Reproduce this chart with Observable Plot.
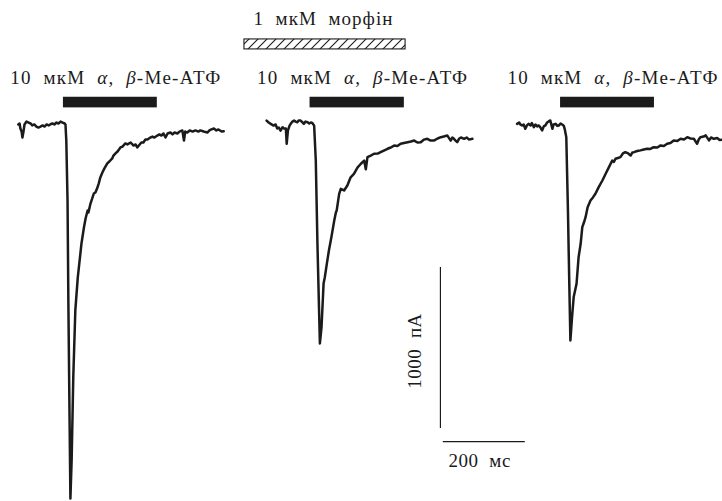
<!DOCTYPE html>
<html><head><meta charset="utf-8">
<script src="https://cdn.jsdelivr.net/npm/d3@7"></script>
<script src="https://cdn.jsdelivr.net/npm/@observablehq/plot@0.6"></script>
<style>html,body{margin:0;padding:0;background:#fff;} #chart svg{display:block} #chart svg text{font-family:"Liberation Serif","DejaVu Serif",serif !important;}</style>
</head><body><div id="chart"></div>
<script>
// ---- data: time (ms, relative to agonist onset) and current (pA) ----
const t1 = [-115,-112,-110,-107,-105,-102,-100,-95,-90,-85,-81,-76,-71,-66,-61,-56,-51,-46,-41,-37,-32,-27,-22,-17,-12,-7,-2,0,2,5,7,10,12,15,19,24,30,34,39,45,49,54,56,61,69,73,77,81,85,90,95,102,107,114,117,122,127,134,139,146,151,159,166,171,175,181,185,190,195,200,207,212,217,224,229,234,239,244,249,256,261,266,273,278,285,289,292,297,303,310,317,324,329,337,346,351,356,362,368,373,381,386];
const i1 = [-6,0,-31,-50,-87,-43,-6,12,6,0,-12,-6,-19,-25,-19,-12,-19,-6,-12,-6,0,-6,6,0,12,6,0,-6,-106,-478,-1099,-1844,-2329,-2093,-1577,-1161,-956,-863,-745,-646,-590,-540,-553,-497,-435,-428,-404,-373,-335,-304,-279,-248,-236,-217,-199,-186,-174,-149,-143,-124,-130,-118,-137,-130,-149,-130,-118,-118,-99,-99,-87,-81,-87,-75,-68,-75,-62,-87,-62,-56,-68,-56,-62,-50,-43,-106,-50,-56,-43,-50,-43,-50,-43,-50,-56,-43,-37,-31,-43,-37,-50,-48];
const t2 = [-115,-110,-105,-98,-93,-89,-85,-81,-76,-73,-68,-66,-63,-59,-56,-52,-48,-44,-40,-37,-32,-27,-24,-20,-15,-11,-7,-3,1,5,9,13,15,19,24,27,32,37,43,50,54,56,62,66,74,82,90,98,107,115,123,127,131,139,147,156,163,171,180,188,196,204,212,220,229,237,245,253,261,269,277,285,293,302,310,317,326,334,338,342,346,350,355,359,367,373,379,387];
const i2 = [12,0,-8,-19,-12,-37,-31,-50,-29,-37,-37,-132,-50,-19,-8,6,12,6,2,12,12,0,-8,6,2,-6,0,-4,-19,-236,-751,-1167,-1372,-1271,-1000,-961,-876,-795,-712,-609,-559,-546,-443,-412,-422,-391,-340,-319,-278,-256,-236,-290,-215,-205,-194,-193,-184,-174,-163,-155,-143,-146,-132,-127,-122,-118,-112,-124,-122,-106,-101,-112,-112,-99,-91,-87,-81,-112,-93,-101,-112,-122,-99,-93,-101,-93,-106,-101];
const t3 = [-118,-113,-110,-106,-102,-98,-94,-90,-85,-82,-77,-73,-69,-65,-61,-57,-53,-49,-45,-41,-37,-32,-29,-24,-20,-16,-12,-8,-4,-2,2,6,9,12,16,20,27,32,37,41,45,49,54,61,67,73,81,90,98,106,114,118,122,128,134,140,146,153,159,163,167,175,183,191,199,207,215,224,232,240,248,256,264,273,281,289,297,305,313,321,325,329,337,342,350,355,362,370,376,383];
const i3 = [4,12,0,-6,0,-27,-6,4,-6,9,-17,0,-12,-6,-19,-37,-12,-6,12,19,25,-27,0,4,-9,-6,6,0,-9,-27,-79,-534,-948,-1341,-1197,-1072,-989,-824,-741,-638,-609,-576,-514,-472,-453,-430,-389,-348,-306,-265,-224,-233,-213,-208,-203,-180,-172,-180,-193,-174,-172,-165,-161,-155,-151,-152,-141,-143,-130,-134,-120,-115,-99,-102,-89,-93,-79,-87,-89,-120,-93,-79,-75,-68,-99,-81,-89,-84,-96,-95];

// drug applications (ms, relative to agonist onset of each sweep)
const agonistOn  = [-5, -9, -12];
const agonistOff = [224, 221, 217];
const morphineOn = -169, morphineOff = 224;      // sweep 2
const agonistLabelParts = [["10  мкМ  ", false], ["α", true], [",  ", false], ["β", true], ["-Me-АТФ", false]];
const agonistLabel = agonistLabelParts.map(d => d[0]).join("");
const morphineLabel = "1  мкМ  морфін";
const scaleTime = 200, scaleCurrent = 1000;
const timeLabel = "200  мс", currentLabel = "1000  пА";

// ---- layout ----
const W = 722, H = 501;
const msPerPx = 1 / 0.41, paPerPx = 6.21, basePx = 123;
const sweepStart = [158.5, 764, 1378];
const sweepShift = [0, 6, -6];
const ink = "#1b1b1b";
const serif = "Liberation Serif";
const fs = 19;

const traces = [[t1, i1], [t2, i2], [t3, i3]].flatMap(([t, c], k) =>
  t.map((tt, j) => ({sweep: k, x: sweepStart[k] + tt, y: c[j] + sweepShift[k]})));
const sweeps = [0, 1, 2].map(k => ({
  k,
  x1: sweepStart[k] + agonistOn[k],
  x2: sweepStart[k] + agonistOff[k],
  xc: sweepStart[k] + (agonistOn[k] + agonistOff[k]) / 2 + 12
}));
const morph = [{x1: sweepStart[1] + morphineOn, x2: sweepStart[1] + morphineOff}];
const vBarX = 1073, vBarTop = -894;
const hBarY = -1975, hBarX = 1080;

const svg = Plot.plot({
  width: W, height: H, margin: 0,
  x: {domain: [0, W * msPerPx], axis: null},
  y: {domain: [-(H - basePx) * paPerPx, basePx * paPerPx], axis: null},
  style: {fontFamily: serif, fontSize: fs + "px", background: "#fff", color: ink},
  marks: [
    Plot.line(traces, {x: "x", y: "y", z: "sweep", stroke: ink, strokeWidth: 2.5, strokeLinejoin: "round"}),
    Plot.rect(sweeps, {x1: "x1", x2: "x2", y1: 97, y2: 163, fill: ink}),
    Plot.text(sweeps, {x: "xc", y: 282, text: () => agonistLabel, fill: ink, fontSize: fs, fontFamily: serif}),
    Plot.rect(morph, {x1: "x1", x2: "x2", y1: 460, y2: 522, fill: "url(#hatch)", stroke: ink, strokeWidth: 1.1}),
    Plot.text(morph, {x: d => (d.x1 + d.x2) / 2 - 5, y: 652, text: () => morphineLabel, fill: ink, fontSize: fs, fontFamily: serif}),
    Plot.ruleX([vBarX], {y1: vBarTop, y2: vBarTop - scaleCurrent, stroke: ink, strokeWidth: 1.2}),
    Plot.ruleY([hBarY], {x1: hBarX, x2: hBarX + scaleTime, stroke: ink, strokeWidth: 1.2}),
    Plot.text([currentLabel], {x: vBarX - 62, y: vBarTop - scaleCurrent / 2 - 20, text: d => d, rotate: -90, fill: ink, fontSize: fs, fontFamily: serif}),
    Plot.text([timeLabel], {x: hBarX + scaleTime / 2 - 12, y: hBarY - 122, text: d => d, fill: ink, fontSize: fs, fontFamily: serif})
  ]
});

// hatch pattern
const defs = d3.select(svg).insert("defs", ":first-child");
const pat = defs.append("pattern").attr("id", "hatch").attr("patternUnits", "userSpaceOnUse")
  .attr("width", 9).attr("height", 9);
pat.append("rect").attr("width", 9).attr("height", 9).attr("fill", "#fff");
pat.append("path").attr("d", "M-2,11 L11,-2 M-4,4 L4,-4 M5,13 L13,5").attr("stroke", ink).attr("stroke-width", 1.1);

// rich text + widths
const widths = new Map([[morphineLabel, 139], [timeLabel, 62], [currentLabel, 75]]);
d3.select(svg).selectAll("text").each(function () {
  const s = this.textContent;
  this.style.whiteSpace = "pre";
  this.setAttribute("font-family", serif);
  if (s === agonistLabel) {
    this.textContent = "";
    for (const [p, it] of agonistLabelParts) {
      const ts = d3.select(this).append("tspan").text(p);
      if (it) ts.attr("font-style", "italic");
    }
    this.setAttribute("textLength", 210);
    this.setAttribute("lengthAdjust", "spacing");
  } else if (widths.has(s)) {
    this.setAttribute("textLength", widths.get(s)); this.setAttribute("lengthAdjust", "spacing");
  }
});
document.getElementById("chart").appendChild(svg);
</script></body></html>
